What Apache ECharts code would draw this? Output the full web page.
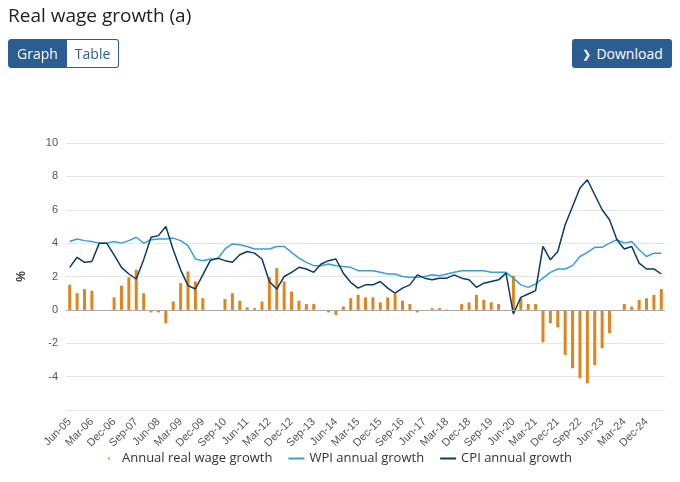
<!DOCTYPE html>
<html>
<head>
<meta charset="utf-8">
<script src="https://cdn.jsdelivr.net/npm/echarts@6/dist/echarts.min.js"></script>
<style>
  body { margin: 0; font-family: "Open Sans", sans-serif; background: #fff; }
  #chart { position: absolute; left: 0; top: 0; width: 680px; height: 482px; }
  #title { position: absolute; left: 8px; top: 2px; font-size: 19px; color: #222; z-index: 2; }
  .tabs { position: absolute; left: 8px; top: 39px; z-index: 2; display: flex; }
  .tabs div { height: 27px; line-height: 27px; font-size: 14px; padding: 0 8px; border: 1px solid #2c5d91; }
  .tabs .on { background: #2c5d91; color: #fff; border-radius: 3px 0 0 3px; }
  .tabs .off { color: #2c5d91; border-radius: 0 3px 3px 0; border-left: none; }
  #dl { position: absolute; right: 8px; top: 39px; z-index: 2; width: 98px; height: 29px; line-height: 29px;
        background: #2c5d91; color: #fff; font-size: 14px; border-radius: 3px; text-align: right; padding-right: 2px; }
</style>
</head>
<body>
<div id="title">Real wage growth (a)</div>
<div class="tabs"><div class="on">Graph</div><div class="off">Table</div></div>
<div id="dl"><span style="position:absolute;left:10px;font-size:11px">&#10095;</span>Download&nbsp;&nbsp;</div>
<div id="chart"></div>
<script>
// 季度标签 Jun-05 ... Jun-25
var months = ["Mar", "Jun", "Sep", "Dec"];
var quarters = [];
for (var y = 2005; y <= 2025; y++) {
  for (var q = 0; q < 4; q++) {
    if (y === 2005 && q === 0) continue;
    if (y === 2025 && q > 1) continue;
    quarters.push(months[q] + "-" + String(y).slice(2));
  }
}

// 实际工资增长（柱）
var realWage = [1.5, 1.0, 1.25, 1.15, 0, 0, 0.75, 1.45, 1.95, 2.4,
  1.0, -0.15, -0.15, -0.8, 0.5, 1.6, 2.3, 1.7, 0.7, 0,
  -0.05, 0.65, 1.0, 0.55, 0.15, 0.1, 0.5, 1.95, 2.5, 1.7,
  1.1, 0.55, 0.35, 0.35, -0.05, -0.15, -0.3, 0.2, 0.7, 0.9,
  0.75, 0.75, 0.45, 0.75, 0.95, 0.55, 0.35, -0.15, 0, 0.1,
  0.1, 0.02, 0, 0.35, 0.45, 0.9, 0.6, 0.45, 0.35, 0,
  2.05, 0.7, 0.35, 0.35, -1.95, -0.8, -1.05, -2.7, -3.5, -4.1,
  -4.4, -3.3, -2.3, -1.4, 0, 0.35, 0.2, 0.6, 0.7, 0.9, 1.25];
// WPI 年增长
var wpi = [4.1, 4.25, 4.15, 4.1, 4.0, 4.0, 4.1, 4.0, 4.15, 4.35,
  4.0, 4.2, 4.25, 4.25, 4.3, 4.15, 3.85, 3.05, 2.95, 3.05,
  3.05, 3.65, 3.95, 3.9, 3.8, 3.65, 3.65, 3.65, 3.8, 3.8,
  3.45, 3.1, 2.85, 2.65, 2.65, 2.75, 2.65, 2.6, 2.55, 2.35,
  2.35, 2.35, 2.25, 2.15, 2.15, 2.0, 1.95, 1.95, 2.0, 2.1,
  2.05, 2.15, 2.25, 2.35, 2.35, 2.35, 2.35, 2.25, 2.25, 2.25,
  1.9, 1.5, 1.35, 1.55, 1.9, 2.25, 2.45, 2.45, 2.65, 3.2,
  3.45, 3.75, 3.75, 4.0, 4.2, 4.0, 4.1, 3.6, 3.2, 3.4, 3.4];
// CPI 年增长
var cpi = [2.55, 3.15, 2.85, 2.9, 4.0, 4.0, 3.3, 2.55, 2.15, 1.85,
  3.0, 4.35, 4.45, 5.0, 3.6, 2.4, 1.45, 1.25, 2.1, 2.95,
  3.1, 2.95, 2.85, 3.3, 3.5, 3.4, 3.05, 1.7, 1.25, 2.0,
  2.25, 2.55, 2.45, 2.25, 2.75, 2.95, 3.05, 2.2, 1.65, 1.3,
  1.5, 1.5, 1.7, 1.3, 1.0, 1.3, 1.5, 2.1, 1.9, 1.8,
  1.9, 1.9, 2.1, 1.9, 1.8, 1.35, 1.6, 1.7, 1.8, 2.2,
  -0.25, 0.75, 0.95, 1.15, 3.8, 3.0, 3.5, 5.1, 6.2, 7.3,
  7.8, 6.9, 6.0, 5.4, 4.2, 3.65, 3.8, 2.8, 2.45, 2.45, 2.15];

var myChart = echarts.init(document.getElementById("chart"));
var lineIcon = "rect";
var option = {
  animation: false,
  grid: { left: 66, right: 15, top: 143, bottom: 72 },
  legend: {
    bottom: 12,
    itemGap: 16,
    itemWidth: 16,
    itemHeight: 2,
    textStyle: { color: "#333", fontSize: 13, fontFamily: "Open Sans" },
    data: [
      { name: "Annual real wage growth", icon: "circle", itemStyle: { borderWidth: 0 } },
      { name: "WPI annual growth", icon: lineIcon },
      { name: "CPI annual growth", icon: lineIcon }
    ]
  },
  xAxis: {
    type: "category",
    data: quarters,
    axisTick: { show: false },
    axisLine: { show: false },
    axisLabel: { interval: 2, rotate: 45, color: "#555", fontSize: 11, margin: 10 }
  },
  yAxis: {
    type: "value",
    min: -6, max: 10, interval: 2,
    name: "%",
    nameLocation: "middle",
    nameGap: 38,
    nameTextStyle: { color: "#333", fontSize: 12, fontWeight: "bold" },
    axisLabel: {
      color: "#555", fontSize: 11,
      formatter: function (v) { return v === -6 ? "" : v; }
    },
    splitLine: { lineStyle: { color: "#e6e6e6" } }
  },
  series: [
    {
      name: "Annual real wage growth",
      type: "bar",
      barWidth: 3,
      itemStyle: { color: "#e0841f" },
      data: realWage,
      markLine: {
        silent: true, symbol: "none", label: { show: false },
        lineStyle: { color: "#aaa", type: "solid", width: 1 },
        data: [{ yAxis: 0 }]
      }
    },
    {
      name: "WPI annual growth",
      type: "line",
      symbol: "none",
      lineStyle: { color: "#3a9fd6", width: 1.5 },
      itemStyle: { color: "#3a9fd6" },
      data: wpi
    },
    {
      name: "CPI annual growth",
      type: "line",
      symbol: "none",
      lineStyle: { color: "#0d3a63", width: 1.5 },
      itemStyle: { color: "#0d3a63" },
      data: cpi
    }
  ]
};
myChart.setOption(option);
</script>
</body>
</html>
